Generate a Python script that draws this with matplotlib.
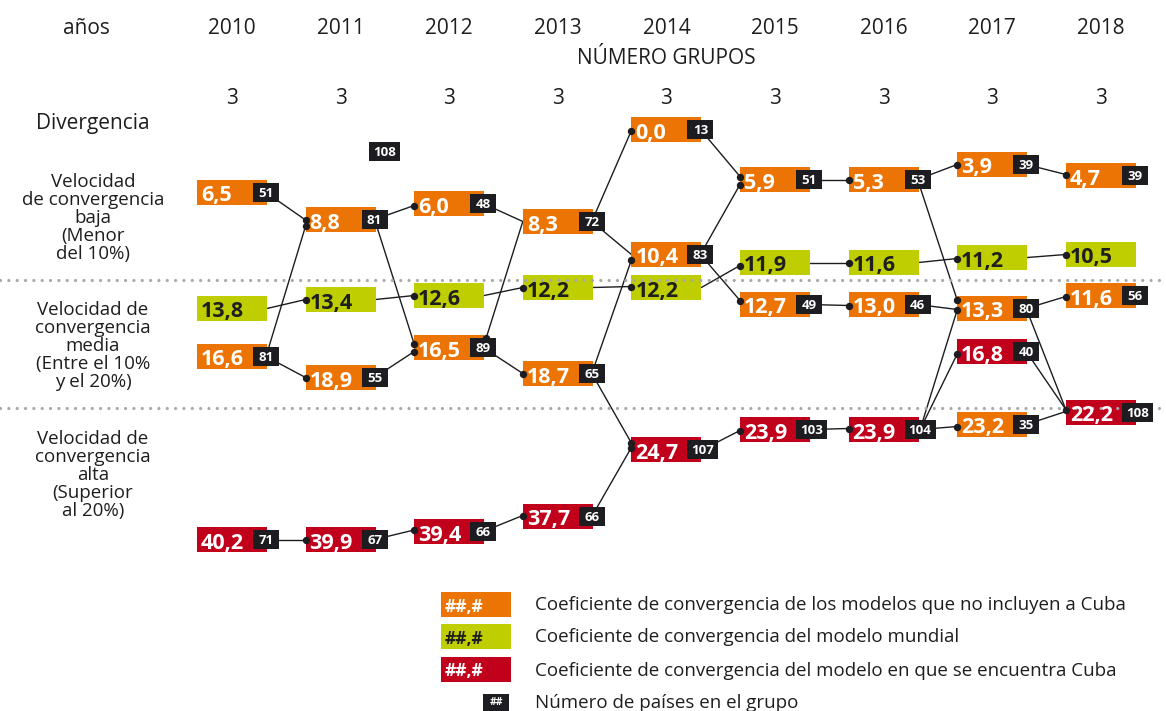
import matplotlib.pyplot as plt
from matplotlib.patches import Rectangle

plt.rcParams['font.family'] = ['Open Sans', 'DejaVu Sans']

# ---------------- datos ----------------
anios = [2010, 2011, 2012, 2013, 2014, 2015, 2016, 2017, 2018]
numero_grupos = [3, 3, 3, 3, 3, 3, 3, 3, 3]

# grupos de cada año: coeficiente, número de países y modelo al que pertenece
grupo_anio = [2010, 2010, 2010, 2010,
              2011, 2011, 2011, 2011,
              2012, 2012, 2012, 2012,
              2013, 2013, 2013, 2013,
              2014, 2014, 2014, 2014,
              2015, 2015, 2015, 2015,
              2016, 2016, 2016, 2016,
              2017, 2017, 2017, 2017, 2017,
              2018, 2018, 2018, 2018]
grupo_coef = [6.5, 13.8, 16.6, 40.2,
              8.8, 13.4, 18.9, 39.9,
              6.0, 12.6, 16.5, 39.4,
              8.3, 12.2, 18.7, 37.7,
              0.0, 10.4, 12.2, 24.7,
              5.9, 11.9, 12.7, 23.9,
              5.3, 11.6, 13.0, 23.9,
              3.9, 11.2, 13.3, 16.8, 23.2,
              4.7, 10.5, 11.6, 22.2]
grupo_paises = [51, None, 81, 71,
                81, None, 55, 67,
                48, None, 89, 66,
                72, None, 65, 66,
                13, 83, None, 107,
                51, None, 49, 103,
                53, None, 46, 104,
                39, None, 80, 40, 35,
                39, None, 56, 108]
grupo_modelo = ['resto', 'mundial', 'resto', 'cuba',
                'resto', 'mundial', 'resto', 'cuba',
                'resto', 'mundial', 'resto', 'cuba',
                'resto', 'mundial', 'resto', 'cuba',
                'resto', 'resto', 'mundial', 'cuba',
                'resto', 'mundial', 'resto', 'cuba',
                'resto', 'mundial', 'resto', 'cuba',
                'resto', 'mundial', 'resto', 'cuba', 'resto',
                'resto', 'mundial', 'resto', 'cuba']

# grupo de divergencia (solo número de países)
divergencia_anio = 2011
divergencia_paises = 108

# transiciones entre grupos de un año al siguiente
enlaces = [
    ((2010, 6.5), (2011, 8.8)), ((2010, 16.6), (2011, 8.8)),
    ((2010, 16.6), (2011, 18.9)), ((2010, 13.8), (2011, 13.4)),
    ((2010, 40.2), (2011, 39.9)),
    ((2011, 8.8), (2012, 6.0)), ((2011, 8.8), (2012, 16.5)),
    ((2011, 18.9), (2012, 16.5)), ((2011, 13.4), (2012, 12.6)),
    ((2011, 39.9), (2012, 39.4)),
    ((2012, 6.0), (2013, 8.3)), ((2012, 16.5), (2013, 8.3)),
    ((2012, 16.5), (2013, 18.7)), ((2012, 12.6), (2013, 12.2)),
    ((2012, 39.4), (2013, 37.7)),
    ((2013, 8.3), (2014, 0.0)), ((2013, 8.3), (2014, 10.4)),
    ((2013, 18.7), (2014, 10.4)), ((2013, 12.2), (2014, 12.2)),
    ((2013, 18.7), (2014, 24.7)), ((2013, 37.7), (2014, 24.7)),
    ((2014, 0.0), (2015, 5.9)), ((2014, 10.4), (2015, 5.9)),
    ((2014, 10.4), (2015, 12.7)), ((2014, 12.2), (2015, 11.9)),
    ((2014, 24.7), (2015, 23.9)),
    ((2015, 5.9), (2016, 5.3)), ((2015, 11.9), (2016, 11.6)),
    ((2015, 12.7), (2016, 13.0)), ((2015, 23.9), (2016, 23.9)),
    ((2016, 5.3), (2017, 3.9)), ((2016, 5.3), (2017, 13.3)),
    ((2016, 13.0), (2017, 13.3)), ((2016, 23.9), (2017, 13.3)),
    ((2016, 23.9), (2017, 16.8)), ((2016, 23.9), (2017, 23.2)),
    ((2016, 11.6), (2017, 11.2)),
    ((2017, 3.9), (2018, 4.7)), ((2017, 11.2), (2018, 10.5)),
    ((2017, 13.3), (2018, 11.6)), ((2017, 13.3), (2018, 22.2)),
    ((2017, 16.8), (2018, 22.2)), ((2017, 23.2), (2018, 22.2)),
]

franjas = ['Velocidad\nde convergencia\nbaja\n(Menor\ndel 10%)',
           'Velocidad de\nconvergencia\nmedia\n(Entre el 10%\ny el 20%)',
           'Velocidad de\nconvergencia\nalta\n(Superior\nal 20%)']

leyenda = ['Coeficiente de convergencia de los modelos que no incluyen a Cuba',
           'Coeficiente de convergencia del modelo mundial',
           'Coeficiente de convergencia del modelo en que se encuentra Cuba',
           'Número de países en el grupo']

# ---------------- maquetación ----------------
W, H = 1166, 711
X0, DX = 232, 108.6          # centro de la columna 2010 y paso entre años
ANCHO, ALTO = 70, 25         # caja del coeficiente
ALTO_N = 19                  # caja negra del número de países

# posición vertical de cada grupo (diagrama dibujado a mano)
grupo_y = [192.5, 308.5, 356.5, 539.5,
           219.5, 299.5, 377.5, 539.5,
           203.5, 295.5, 347.5, 531.5,
           221.5, 287.5, 373.5, 516.5,
           129.5, 254.5, 287.5, 449.5,
           179.5, 262.5, 304.5, 429.5,
           179.5, 262.5, 304.5, 429.5,
           164.5, 257.5, 308.5, 351.5, 424.5,
           175.5, 254.5, 295.5, 412.5]
# desplazamiento del punto de llegada de algunos enlaces (índice -> px)
llegada_dy = {0: 0.5, 1: 6.5, 5: 2, 6: -3.5, 7: 4, 9: -1.5, 14: -1, 15: 1,
              17: 5.5, 18: -1, 19: -6.5, 20: -2, 21: -3, 22: 5, 23: -4,
              24: 3, 25: 1, 28: 1, 29: -1, 31: -8.5, 32: 1, 33: 1.5,
              34: 2.5, 35: 2, 36: 1, 37: -1, 39: 1, 40: -3, 41: -3, 42: -1}
sin_punto = {10, 16, 33, 41, 42}
punto_en_origen = {11}
separadores_y = [280, 407.5]
franjas_y = [218, 346, 475]
leyenda_y = [604, 636, 669, 702]

naranja = '#EC7404'
verde = '#BFCE00'
rojo = '#C1001B'
negro = '#1D1D21'
gris = '#A8A8A8'
texto = '#1E1E1E'
colores = {'resto': naranja, 'mundial': verde, 'cuba': rojo}
color_texto = {'resto': 'white', 'mundial': texto, 'cuba': 'white'}


def x_col(anio):
    return X0 + (anio - anios[0]) * DX


def ancho_negro(n):
    return 26 if n < 100 else 31


def fmt(v):
    return f'{v:.1f}'.replace('.', ',')


def caja_negra(ax, xc, yc, n, size=9.5):
    w = ancho_negro(n)
    ax.add_patch(Rectangle((xc - w / 2, yc - ALTO_N / 2), w, ALTO_N,
                           facecolor=negro, edgecolor='none', zorder=4))
    ax.text(xc, yc + 4.7, str(n), color='white', fontsize=size,
            fontweight='bold', ha='center', va='baseline', zorder=6)


def salida(cx, cy, hw, hh, tx, ty):
    dx, dy = tx - cx, ty - cy
    s = min(hw / abs(dx) if dx else 1e9, hh / abs(dy) if dy else 1e9)
    return cx + s * dx, cy + s * dy


fig = plt.figure(figsize=(W / 100, H / 100), dpi=100)
ax = fig.add_axes([0, 0, 1, 1])
ax.set_xlim(0, W)
ax.set_ylim(H, 0)
ax.axis('off')

# cabecera
ax.text(86, 28, 'años', fontsize=15, color=texto, ha='center', va='center')
for anio, ng in zip(anios, numero_grupos):
    ax.text(x_col(anio), 28, str(anio), fontsize=15, color=texto,
            ha='center', va='center')
    ax.text(x_col(anio), 99, str(ng), fontsize=15, color=texto,
            ha='center', va='center')
ax.text(x_col(2014), 59, 'NÚMERO GRUPOS', fontsize=15, color=texto,
        ha='center', va='center')
ax.text(93, 124, 'Divergencia', fontsize=15, color=texto,
        ha='center', va='center')
caja_negra(ax, x_col(divergencia_anio) + 44, 151, divergencia_paises)

# franjas de velocidad
for etiqueta, yf in zip(franjas, franjas_y):
    ax.text(93, yf, etiqueta, fontsize=13.5, color=texto, ha='center',
            va='center', linespacing=1.0)
for ys in separadores_y:
    ax.plot([0, W], [ys, ys], color=gris, lw=2.3, linestyle=(0, (0.01, 2.6)),
            dash_capstyle='round', zorder=3)

# grupos
pos = {}
for anio, coef, n, modelo, yc in zip(grupo_anio, grupo_coef, grupo_paises,
                                     grupo_modelo, grupo_y):
    xc = x_col(anio)
    ax.add_patch(Rectangle((xc - ANCHO / 2, yc - ALTO / 2), ANCHO, ALTO,
                           facecolor=colores[modelo], edgecolor='none',
                           zorder=2))
    ax.text(xc - ANCHO / 2 + 4, yc + 9, fmt(coef), color=color_texto[modelo],
            fontsize=15.5, fontweight='bold', ha='left', va='baseline',
            zorder=6)
    if n is not None:
        xn = xc + ANCHO / 2 - 14 + ancho_negro(n) / 2
        caja_negra(ax, xn, yc, n)
        pos[(anio, coef)] = (xn, yc, ancho_negro(n) / 2, ALTO_N / 2, xc)
    else:
        pos[(anio, coef)] = (xc + ANCHO / 2, yc, 0, 0, xc)

# enlaces
for i, (a, b) in enumerate(enlaces):
    sx, sy, hw, hh, _ = pos[a]
    tx = pos[b][4] - ANCHO / 2
    ty = pos[b][1] + llegada_dy.get(i, 0)
    ax.plot([sx, tx], [sy, ty], color=negro, lw=1.0, zorder=1,
            solid_capstyle='round')
    if i in punto_en_origen:
        px, py = salida(sx, sy, hw, hh, tx, ty)
        ax.plot(px, py, 'o', color=negro, ms=4.3, zorder=7)
    elif i not in sin_punto:
        ax.plot(tx, ty, 'o', color=negro, ms=4.3, zorder=7)

# leyenda
xl = 476
muestras = [('resto', leyenda[0]), ('mundial', leyenda[1]),
            ('cuba', leyenda[2])]
for (modelo, etiqueta), yl in zip(muestras, leyenda_y[:3]):
    ax.add_patch(Rectangle((xl - ANCHO / 2, yl - ALTO / 2), ANCHO, ALTO,
                           facecolor=colores[modelo], edgecolor='none'))
    ax.text(xl - ANCHO / 2 + 4, yl + 7.5, '##,#', color=color_texto[modelo],
            fontsize=12.5, fontweight='bold', ha='left', va='baseline')
    ax.text(535, yl + 1.5, etiqueta, fontsize=13.5, color=texto, ha='left',
            va='center')
ax.add_patch(Rectangle((483, leyenda_y[3] - 8.5), 26, 17, facecolor=negro,
                       edgecolor='none'))
ax.text(496, leyenda_y[3] + 3, '##', color='white', fontsize=7.5,
        fontweight='bold', ha='center', va='baseline')
ax.text(535, leyenda_y[3] + 1.5, leyenda[3], fontsize=13.5, color=texto,
        ha='left', va='center')

fig.savefig('out.png', dpi=100)
